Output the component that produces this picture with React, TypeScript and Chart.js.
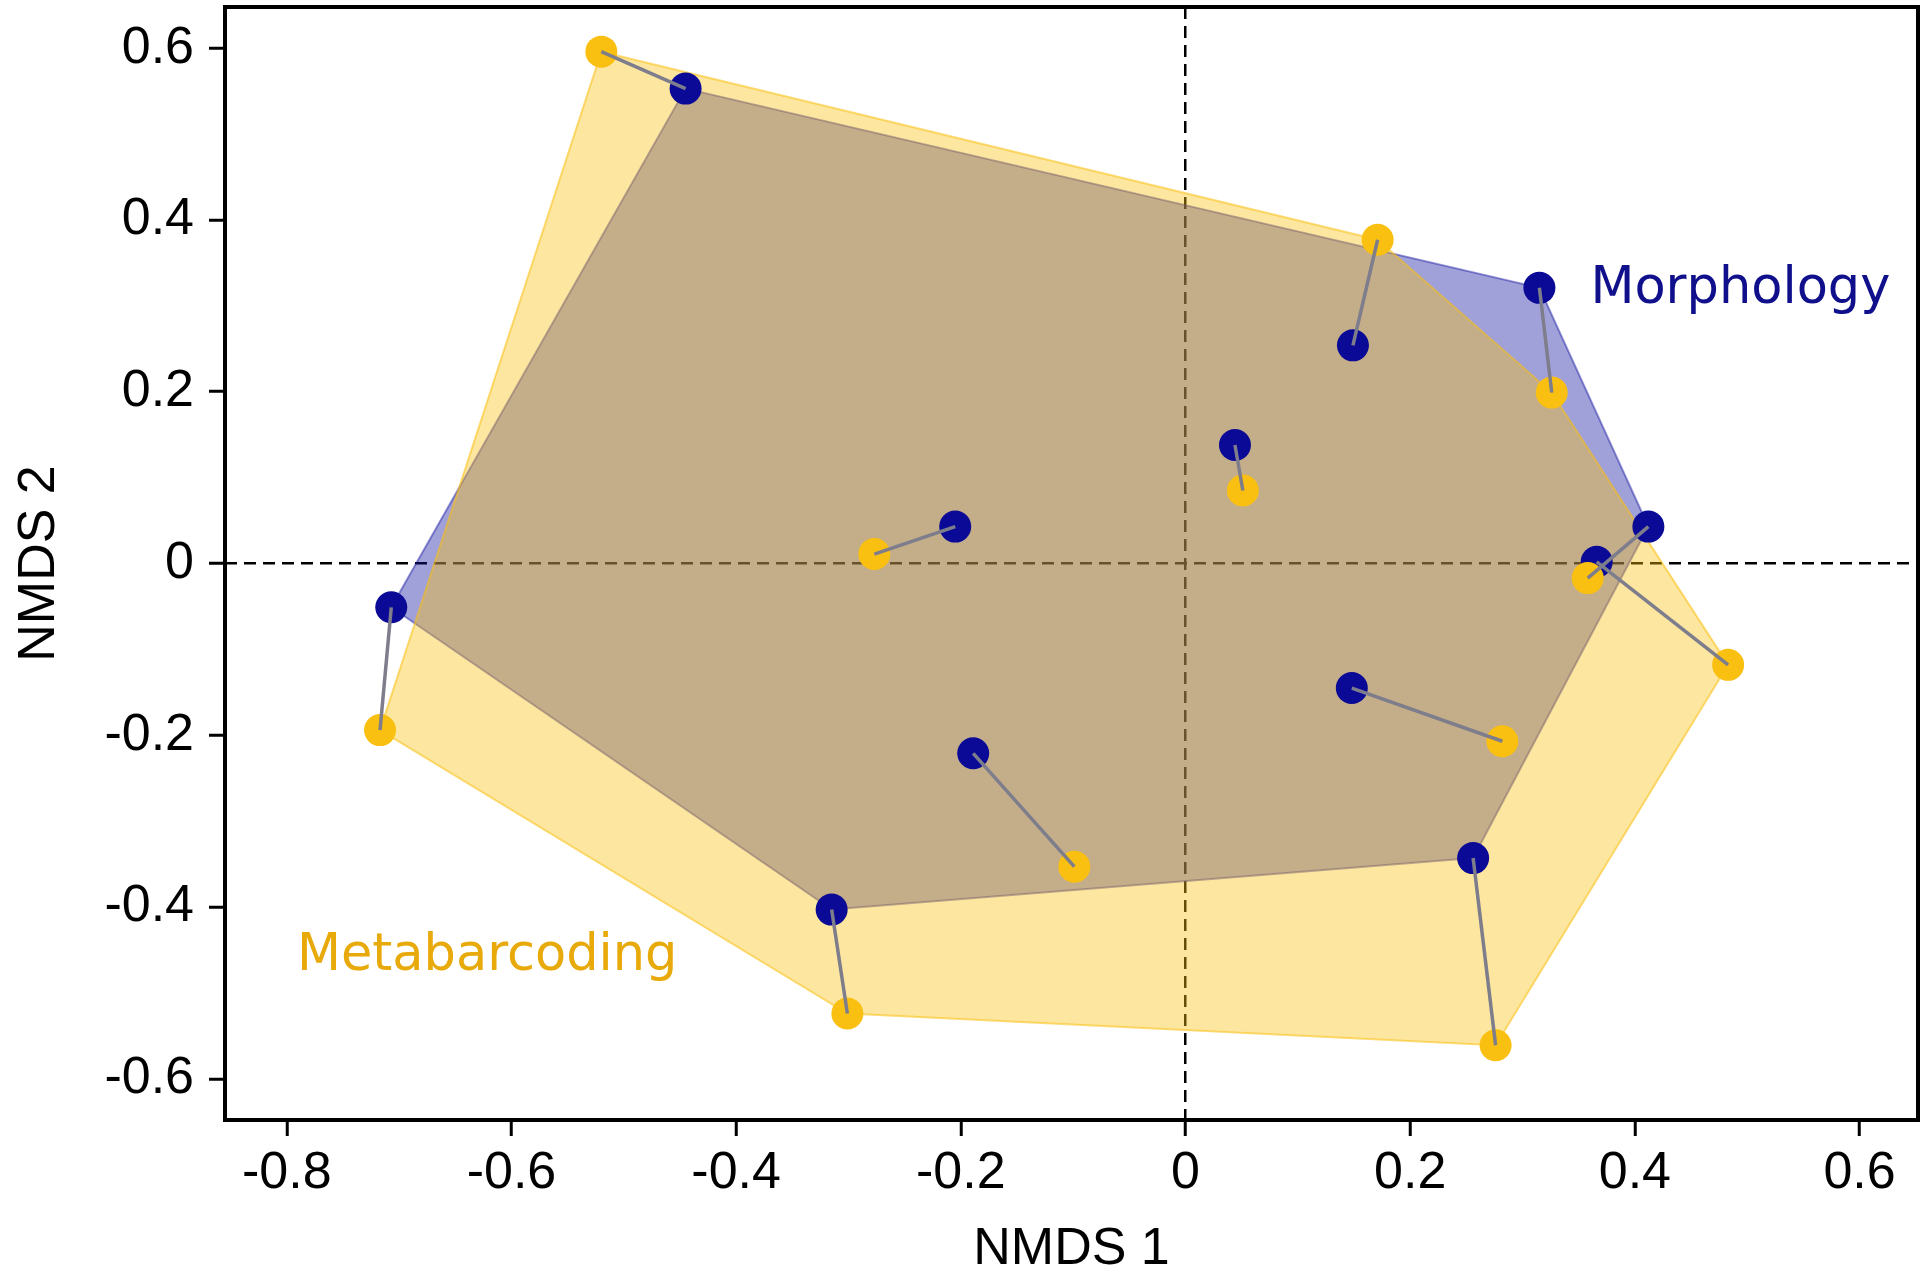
import React, { useEffect, useRef } from 'react';
import { Chart, registerables } from 'chart.js';

Chart.register(...registerables);

// Morphology (blue) site scores
const morphX = [-0.445, 0.315, 0.149, 0.044, -0.205, 0.412, 0.366, -0.707, 0.148, -0.189, 0.256, -0.315];
const morphY = [0.553, 0.321, 0.254, 0.138, 0.043, 0.043, 0.002, -0.051, -0.145, -0.221, -0.343, -0.403];

// Metabarcoding (yellow) site scores, same site order
const metaX = [-0.520, 0.326, 0.171, 0.051, -0.277, 0.358, 0.483, -0.717, 0.282, -0.099, 0.276, -0.301];
const metaY = [0.596, 0.199, 0.377, 0.085, 0.011, -0.017, -0.118, -0.194, -0.207, -0.353, -0.561, -0.524];

const xTicks = [-0.8, -0.6, -0.4, -0.2, 0, 0.2, 0.4, 0.6];
const yTicks = [-0.6, -0.4, -0.2, 0, 0.2, 0.4, 0.6];
const xTitle = 'NMDS 1';
const yTitle = 'NMDS 2';
const groupNames = ['Morphology', 'Metabarcoding'];

const NAVY = 'rgb(10,10,150)';
const GOLD = 'rgb(250,192,17)';
const AXIS_FONT = '"Liberation Sans", Arial, sans-serif';
const LABEL_FONT = '"DejaVu Sans", Verdana, sans-serif';

type P = { x: number; y: number };

function pts(xs: number[], ys: number[]): P[] {
  return xs.map((x, i) => ({ x, y: ys[i] }));
}

function convexHull(points: P[]): P[] {
  const p = points.slice().sort((a, b) => (a.x === b.x ? a.y - b.y : a.x - b.x));
  const cross = (o: P, a: P, b: P) => (a.x - o.x) * (b.y - o.y) - (a.y - o.y) * (b.x - o.x);
  const lower: P[] = [];
  for (const q of p) {
    while (lower.length >= 2 && cross(lower[lower.length - 2], lower[lower.length - 1], q) <= 0) lower.pop();
    lower.push(q);
  }
  const upper: P[] = [];
  for (let i = p.length - 1; i >= 0; i--) {
    const q = p[i];
    while (upper.length >= 2 && cross(upper[upper.length - 2], upper[upper.length - 1], q) <= 0) upper.pop();
    upper.push(q);
  }
  upper.pop();
  lower.pop();
  const h = lower.concat(upper);
  h.push(h[0]);
  return h;
}

const framePlugin = {
  id: 'frame',
  afterDraw(chart: any) {
    const { ctx, chartArea: a } = chart;
    ctx.save();
    ctx.strokeStyle = '#000';
    ctx.lineWidth = 4;
    ctx.strokeRect(a.left, a.top, a.right - a.left, a.bottom - a.top);
    ctx.restore();
  },
};

const groupLabelPlugin = {
  id: 'groupLabels',
  afterDatasetsDraw(chart: any) {
    const { ctx, scales } = chart;
    const items = [
      { text: groupNames[0], x: 0.3604, y: 0.303, color: '#10108C' },
      { text: groupNames[1], x: -0.791, y: -0.473, color: '#E8A90A' },
    ];
    ctx.save();
    ctx.font = `51px ${LABEL_FONT}`;
    ctx.textAlign = 'left';
    ctx.textBaseline = 'alphabetic';
    for (const it of items) {
      ctx.fillStyle = it.color;
      ctx.fillText(it.text, scales.x.getPixelForValue(it.x), scales.y.getPixelForValue(it.y));
    }
    ctx.restore();
  },
};

export default function App() {
  const ref = useRef<HTMLCanvasElement | null>(null);

  useEffect(() => {
    if (!ref.current) return;
    const morph = pts(morphX, morphY);
    const meta = pts(metaX, metaY);

    const pairDatasets = morph.map((m, i) => ({
      type: 'line' as const,
      data: [m, meta[i]],
      borderColor: 'rgb(125,125,140)',
      borderWidth: 3.5,
      pointRadius: 0,
      fill: false,
      order: 0,
    }));

    const chart = new Chart(ref.current, {
      type: 'scatter',
      data: {
        datasets: [
          ...pairDatasets,
          {
            type: 'scatter',
            label: groupNames[1],
            data: meta,
            backgroundColor: GOLD,
            borderColor: GOLD,
            borderWidth: 0,
            pointRadius: 16,
            order: 1,
          },
          {
            type: 'scatter',
            label: groupNames[0],
            data: morph,
            backgroundColor: NAVY,
            borderColor: NAVY,
            borderWidth: 0,
            pointRadius: 16,
            order: 2,
          },
          {
            type: 'line',
            label: groupNames[1] + ' hull',
            data: convexHull(meta),
            borderColor: 'rgba(250,192,17,0.55)',
            borderWidth: 2,
            backgroundColor: 'rgba(250,192,17,0.4)',
            pointRadius: 0,
            tension: 0,
            fill: 'shape',
            order: 3,
          },
          {
            type: 'line',
            label: groupNames[0] + ' hull',
            data: convexHull(morph),
            borderColor: 'rgba(20,20,160,0.45)',
            borderWidth: 2,
            backgroundColor: 'rgba(20,20,160,0.4)',
            pointRadius: 0,
            tension: 0,
            fill: 'shape',
            order: 4,
          },
        ] as any,
      },
      options: {
        animation: false,
        responsive: false,
        devicePixelRatio: 1,
        events: [],
        layout: { autoPadding: false, padding: { left: 0, top: 7, right: 3, bottom: 0 } },
        plugins: {
          legend: { display: false },
          tooltip: { enabled: false },
        },
        scales: {
          x: {
            type: 'linear',
            min: -0.855,
            max: 0.652,
            afterBuildTicks: (s: any) => {
              s.ticks = xTicks.map((v) => ({ value: v }));
            },
            afterFit: (s: any) => {
              s.height = 153;
              s.paddingLeft = 0;
              s.paddingRight = 0;
            },
            border: { display: false, dash: [12, 7] },
            grid: {
              drawOnChartArea: true,
              drawTicks: true,
              tickLength: 16,
              tickWidth: 3,
              tickColor: '#000',
              lineWidth: 2.5,
              color: (c: any) => (c.tick && c.tick.value === 0 ? '#000' : 'rgba(0,0,0,0)'),
            },
            ticks: {
              padding: 6,
              color: '#000',
              font: { family: AXIS_FONT, size: 52 },
              maxRotation: 0,
              callback: (v: any) => String(v),
            },
            title: {
              display: true,
              text: xTitle,
              color: '#000',
              font: { family: AXIS_FONT, size: 52, lineHeight: 0.9 },
              padding: { top: 0, bottom: 0 },
            },
          },
          y: {
            type: 'linear',
            min: -0.648,
            max: 0.648,
            afterBuildTicks: (s: any) => {
              s.ticks = yTicks.map((v) => ({ value: v }));
            },
            afterFit: (s: any) => {
              s.width = 225;
              s.paddingTop = 0;
              s.paddingBottom = 0;
            },
            border: { display: false, dash: [12, 7] },
            grid: {
              drawOnChartArea: true,
              drawTicks: true,
              tickLength: 16,
              tickWidth: 3,
              tickColor: '#000',
              lineWidth: 2.5,
              color: (c: any) => (c.tick && c.tick.value === 0 ? '#000' : 'rgba(0,0,0,0)'),
            },
            ticks: {
              padding: 15,
              color: '#000',
              font: { family: AXIS_FONT, size: 52 },
              callback: (v: any) => String(v),
            },
            title: {
              display: true,
              text: yTitle,
              color: '#000',
              font: { family: AXIS_FONT, size: 52, lineHeight: 0.9 },
              padding: { top: 16.6, bottom: 0 },
            },
          },
        },
      } as any,
      plugins: [framePlugin, groupLabelPlugin],
    });

    return () => chart.destroy();
  }, []);

  return (
    <div style={{ position: 'fixed', left: 0, top: 0, width: 1921, height: 1273, background: '#fff' }}>
      <canvas ref={ref} width={1921} height={1273} style={{ display: 'block' }} />
    </div>
  );
}
